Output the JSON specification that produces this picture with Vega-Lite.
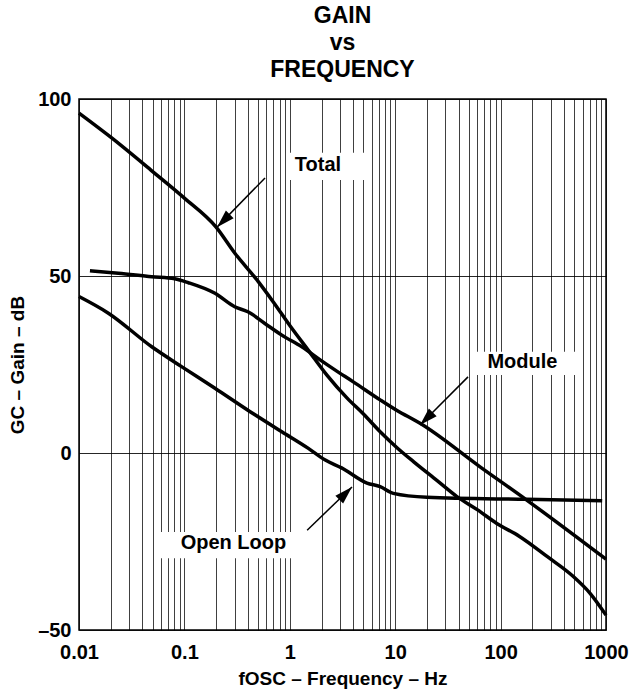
{
  "$schema": "https://vega.github.io/schema/vega-lite/v6.json",
  "width": 527,
  "height": 531,
  "autosize": {"type": "none"},
  "padding": {"left": 79, "top": 99, "right": 25, "bottom": 70},
  "background": "white",
  "config": {
    "font": "Liberation Sans",
    "view": {"stroke": "black", "strokeWidth": 1.5}
  },
  "title": {
    "text": ["GAIN", "vs", "FREQUENCY"],
    "fontSize": 23,
    "fontWeight": "bold",
    "lineHeight": 27,
    "offset": 7,
    "anchor": "middle",
    "color": "black",
    "font": "Liberation Sans"
  },
  "datasets": {
    "curves": [
      {"series": "Total", "f": 0.01, "g": 96},
      {"series": "Total", "f": 0.02, "g": 89.2},
      {"series": "Total", "f": 0.05, "g": 79.5},
      {"series": "Total", "f": 0.1, "g": 72},
      {"series": "Total", "f": 0.2, "g": 63.8},
      {"series": "Total", "f": 0.3, "g": 56.5},
      {"series": "Total", "f": 0.5, "g": 48.5},
      {"series": "Total", "f": 0.7, "g": 42.6},
      {"series": "Total", "f": 1, "g": 36},
      {"series": "Total", "f": 1.5, "g": 29},
      {"series": "Total", "f": 2.25, "g": 22},
      {"series": "Total", "f": 3.5, "g": 15.5},
      {"series": "Total", "f": 5, "g": 11},
      {"series": "Total", "f": 7.2, "g": 6},
      {"series": "Total", "f": 10.4, "g": 1.5},
      {"series": "Total", "f": 15, "g": -2.5},
      {"series": "Total", "f": 25, "g": -7.8},
      {"series": "Total", "f": 38.5, "g": -12.3},
      {"series": "Total", "f": 60, "g": -16},
      {"series": "Total", "f": 92, "g": -19.9},
      {"series": "Total", "f": 150, "g": -23.5},
      {"series": "Total", "f": 278, "g": -29.3},
      {"series": "Total", "f": 490, "g": -34.9},
      {"series": "Total", "f": 700, "g": -39.5},
      {"series": "Total", "f": 1000, "g": -45.8},
      {"series": "Module", "f": 0.0127, "g": 51.5},
      {"series": "Module", "f": 0.0236, "g": 50.8},
      {"series": "Module", "f": 0.049, "g": 49.8},
      {"series": "Module", "f": 0.081, "g": 49.2},
      {"series": "Module", "f": 0.109, "g": 48.1},
      {"series": "Module", "f": 0.195, "g": 45.1},
      {"series": "Module", "f": 0.3, "g": 41.3},
      {"series": "Module", "f": 0.4, "g": 39.9},
      {"series": "Module", "f": 0.58, "g": 36.6},
      {"series": "Module", "f": 0.84, "g": 33.3},
      {"series": "Module", "f": 1.3, "g": 30.0},
      {"series": "Module", "f": 1.94, "g": 26.3},
      {"series": "Module", "f": 2.7, "g": 23.4},
      {"series": "Module", "f": 4.0, "g": 20.1},
      {"series": "Module", "f": 7.2, "g": 15.0},
      {"series": "Module", "f": 10.4, "g": 12},
      {"series": "Module", "f": 17.2, "g": 8.4},
      {"series": "Module", "f": 63.8, "g": -3.9},
      {"series": "Module", "f": 177, "g": -13.3},
      {"series": "Module", "f": 1000, "g": -30},
      {"series": "Open Loop", "f": 0.01, "g": 44.2},
      {"series": "Open Loop", "f": 0.019, "g": 39.5},
      {"series": "Open Loop", "f": 0.049, "g": 30.0},
      {"series": "Open Loop", "f": 0.094, "g": 24.4},
      {"series": "Open Loop", "f": 0.195, "g": 18.3},
      {"series": "Open Loop", "f": 0.4, "g": 12.1},
      {"series": "Open Loop", "f": 0.84, "g": 6.0},
      {"series": "Open Loop", "f": 1.5, "g": 1.3},
      {"series": "Open Loop", "f": 2.17, "g": -2.0},
      {"series": "Open Loop", "f": 3.1, "g": -4.2},
      {"series": "Open Loop", "f": 5.4, "g": -8.5},
      {"series": "Open Loop", "f": 7.2, "g": -9.5},
      {"series": "Open Loop", "f": 9.6, "g": -11.4},
      {"series": "Open Loop", "f": 20, "g": -12.5},
      {"series": "Open Loop", "f": 177, "g": -13.1},
      {"series": "Open Loop", "f": 920, "g": -13.5}
    ],
    "boxes": [
      {"label": "Total", "f": 0.92, "f2": 5.4, "g": 84.8, "g2": 77.1},
      {"label": "Module", "f": 53.5, "f2": 542, "g": 28.6, "g2": 22.0},
      {"label": "Open Loop", "f": 0.0574, "f2": 1.05, "g": -22.3, "g2": -29.7}
    ],
    "labels": [
      {"label": "Total", "f": 1.85, "g": 81.4},
      {"label": "Module", "f": 161, "g": 25.6},
      {"label": "Open Loop", "f": 0.292, "g": -25.3}
    ],
    "arrows": [
      {"label": "Total", "dir": "down-left", "f2": 0.582, "g2": 77.7, "f": 0.204, "g": 63.8},
      {"label": "Module", "dir": "down-left", "f2": 49.1, "g2": 21.5, "f": 17.2, "g": 7.9},
      {"label": "Open Loop", "dir": "up-right", "f2": 1.46, "g2": -21.8, "f": 3.89, "g": -9.6}
    ]
  },
  "encoding": {
    "x": {
      "field": "f", "type": "quantitative",
      "scale": {"type": "log", "domain": [0.01, 1000], "nice": false},
      "axis": {
        "title": "fOSC – Frequency – Hz",
        "values": [0.01, 0.02, 0.03, 0.04, 0.05, 0.06, 0.07, 0.08, 0.09, 0.1, 0.2, 0.3, 0.4, 0.5, 0.6, 0.7, 0.8, 0.9, 1, 2, 3, 4, 5, 6, 7, 8, 9, 10, 20, 30, 40, 50, 60, 70, 80, 90, 100, 200, 300, 400, 500, 600, 700, 800, 900, 1000],
        "format": "~g",
        "labelExpr": "(datum.value == 0.01 || datum.value == 0.1 || datum.value == 1 || datum.value == 10 || datum.value == 100 || datum.value == 1000) ? datum.label : ''",
        "grid": true, "gridColor": "black", "gridOpacity": 0.75, "gridWidth": 1,
        "ticks": false, "domain": false,
        "labelFont": "Liberation Sans", "labelFontSize": 20, "labelFontWeight": "bold", "labelColor": "black",
        "labelPadding": 12, "labelFlush": false, "labelOverlap": false, "labelBound": false,
        "titleFont": "Liberation Sans", "titleFontSize": 19, "titleFontWeight": "bold", "titleColor": "black", "titlePadding": 7
      }
    },
    "y": {
      "field": "g", "type": "quantitative",
      "scale": {"domain": [-50, 100], "nice": false},
      "axis": {
        "title": "GC – Gain – dB",
        "values": [-50, 0, 50, 100],
        "labelExpr": "datum.value < 0 ? '–' + abs(datum.value) : datum.label",
        "grid": true, "gridColor": "black", "gridOpacity": 0.85, "gridWidth": 1,
        "ticks": false, "domain": false,
        "labelFont": "Liberation Sans", "labelFontSize": 20, "labelFontWeight": "bold", "labelColor": "black",
        "labelPadding": 8, "labelFlush": false, "labelOverlap": false, "labelBound": false,
        "titleFont": "Liberation Sans", "titleFontSize": 19, "titleFontWeight": "bold", "titleColor": "black", "titlePadding": 10
      }
    }
  },
  "layer": [
    {
      "data": {"name": "curves"},
      "mark": {"type": "line", "color": "black", "strokeWidth": 3.5, "interpolate": "monotone"},
      "encoding": {
        "detail": {"field": "series", "type": "nominal"}
      }
    },
    {
      "data": {"name": "boxes"},
      "mark": {"type": "rect", "fill": "white", "strokeWidth": 0},
      "encoding": {
        "x2": {"field": "f2"},
        "y2": {"field": "g2"}
      }
    },
    {
      "data": {"name": "labels"},
      "mark": {"type": "text", "font": "Liberation Sans", "fontSize": 20, "fontWeight": "bold", "color": "black", "align": "center", "baseline": "middle"},
      "encoding": {
        "text": {"field": "label", "type": "nominal"}
      }
    },
    {
      "data": {"name": "arrows"},
      "mark": {"type": "rule", "color": "black", "strokeWidth": 1.5},
      "encoding": {
        "x2": {"field": "f2"},
        "y2": {"field": "g2"}
      }
    },
    {
      "data": {"name": "arrows"},
      "transform": [{"filter": "datum.dir === 'down-left'"}],
      "mark": {"type": "point", "shape": "M0,0L0.55,1.8L-0.55,1.8Z", "filled": true, "color": "black", "opacity": 1, "size": 400, "angle": 225, "strokeWidth": 0},
      "encoding": {}
    },
    {
      "data": {"name": "arrows"},
      "transform": [{"filter": "datum.dir === 'up-right'"}],
      "mark": {"type": "point", "shape": "M0,0L0.55,1.8L-0.55,1.8Z", "filled": true, "color": "black", "opacity": 1, "size": 400, "angle": 45, "strokeWidth": 0},
      "encoding": {}
    }
  ]
}
